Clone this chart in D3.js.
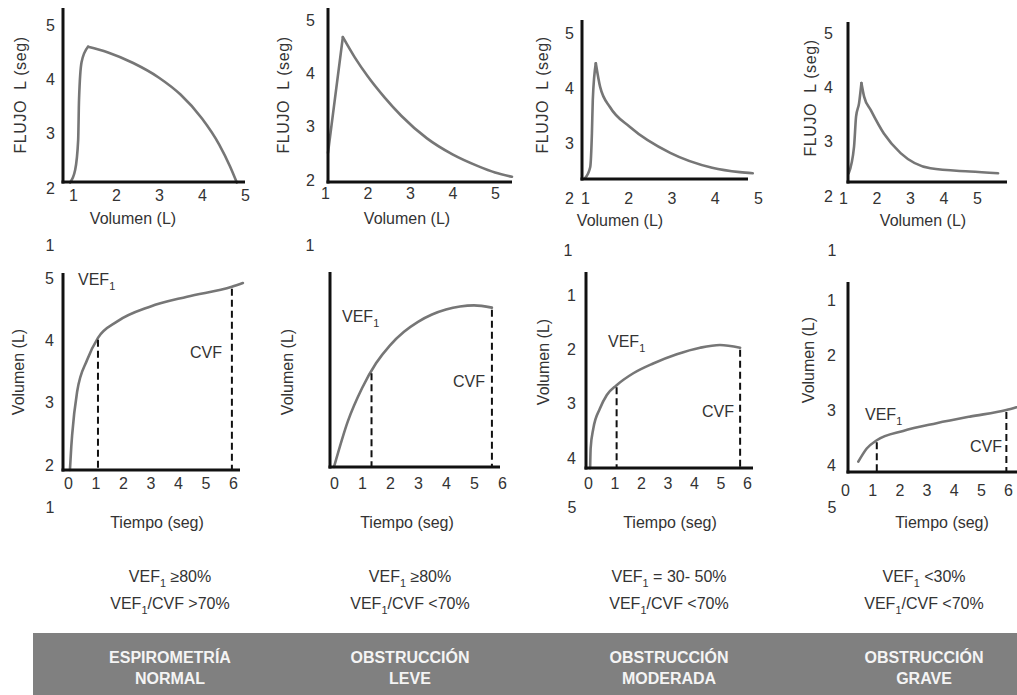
<!DOCTYPE html>
<html>
<head>
<meta charset="utf-8">
<script src="https://cdn.jsdelivr.net/npm/d3@7"></script>
<style>
body { margin: 0; background: #fff; }
svg { display: block; font-family: Arial, "Liberation Sans", sans-serif; }
.tick text { fill: #333; font-size: 16px; }
</style>
</head>
<body>
<svg id="chart" width="1017" height="695"></svg>
<script>
// curvas flujo-volumen (arriba): [volumen, flujo]
const flujoNormal = [[0.93,2.1],[1.05,2.33],[1.12,2.88],[1.14,3.62],[1.2,4.32],[1.35,4.6],[1.8,4.5],[2.4,4.3],[3.0,4.03],[3.5,3.72],[4.0,3.28],[4.4,2.8],[4.65,2.4],[4.81,2.1]];
const flujoLeve = [[1.07,2.51],[1.42,4.68],[1.7,4.3],[2.0,3.95],[2.4,3.55],[2.8,3.2],[3.4,2.78],[4.0,2.48],[4.6,2.26],[5.0,2.14],[5.4,2.06]];
const flujoModerada = [[1.0,2.36],[1.12,2.56],[1.16,3.18],[1.18,3.78],[1.25,4.45],[1.35,4.02],[1.58,3.65],[2.04,3.29],[2.97,2.82],[3.94,2.55],[4.58,2.47],[4.88,2.45]];
const flujoGrave = [[1.17,2.42],[1.33,2.91],[1.39,3.46],[1.48,3.71],[1.55,4.08],[1.63,3.83],[1.83,3.58],[2.22,3.15],[2.72,2.79],[3.61,2.51],[4.79,2.45],[5.63,2.42]];

// curvas volumen-tiempo (abajo): [tiempo, volumen]
const volNormal = [[0.07,1.92],[0.12,2.3],[0.15,2.48],[0.33,3.17],[0.69,3.68],[1.09,4.04],[1.78,4.3],[2.98,4.54],[4.33,4.7],[5.96,4.86],[6.36,4.92]];
const volLeve = [[0,0],[0.5,1.2],[1.0,2.05],[1.5,2.7],[2.0,3.17],[2.5,3.52],[3.0,3.78],[3.5,3.97],[4.0,4.1],[4.5,4.18],[5.0,4.21],[5.64,4.15]];
const volModerada = [[0.08,4.19],[0.1,3.82],[0.2,3.46],[0.45,3.09],[0.71,2.84],[1.08,2.66],[1.71,2.44],[2.46,2.26],[3.35,2.09],[4.23,1.97],[4.98,1.92],[5.74,1.97]];
const volGrave = [[0.49,3.94],[0.8,3.7],[1.17,3.55],[2.14,3.38],[3.37,3.24],[4.6,3.12],[5.94,3.0],[6.31,2.95]];

const vef1Tiempo = [1.09, 1.34, 1.08, 1.17];
const cvfTiempo = [5.96, 5.64, 5.74, 5.94];

const volTicks = [1, 2, 3, 4, 5];
const flujoTicks = [2, 3, 4, 5];
const tiempoTicks = [0, 1, 2, 3, 4, 5, 6];
const volBajoTicks = [[2, 3, 4, 5], [], [1, 2, 3, 4], [1, 2, 3, 4]];
const sueltosArriba = ["1", "1", "1", "1"];
const sueltosAbajo = ["1", "", "5", "5"];

const vef1Criterio = ["≥80%", "≥80%", "= 30- 50%", "<30%"];
const ratioCriterio = [">70%", "<70%", "<70%", "<70%"];
const diagnostico = [["ESPIROMETRÍA", "NORMAL"], ["OBSTRUCCIÓN", "LEVE"], ["OBSTRUCCIÓN", "MODERADA"], ["OBSTRUCCIÓN", "GRAVE"]];

const flujoCurvas = [flujoNormal, flujoLeve, flujoModerada, flujoGrave];
const volCurvas = [volNormal, volLeve, volModerada, volGrave];

// posiciones de cada panel
const arriba = [
  {ax: 63, top: 8, ay: 182, right: 245, xr: [73, 245], yr: [188, 25], ylx: 51, xly: 195, fx: 20, fy: 95, vx: 133, vy: 218},
  {ax: 328, top: 8, ay: 182, right: 512, xr: [325, 495], yr: [180, 20], ylx: 311, xly: 193, fx: 283, fy: 95, vx: 407, vy: 218},
  {ax: 582, top: 20, ay: 179, right: 748, xr: [585, 758], yr: [198, 33], ylx: 570, xly: 198, fx: 542, fy: 95, vx: 620, vy: 220},
  {ax: 848, top: 22, ay: 182, right: 1007, xr: [843, 977], yr: [196, 33], ylx: 829, xly: 198, fx: 810, fy: 98, vx: 923, vy: 220}
];
const abajo = [
  {ax: 63, top: 273, ay: 470, right: 240, xr: [68, 233], yd: [2, 5], yr: [465, 278], ylx: 50, xly: 483, vx: 18, vy: 372, tx: 157, ty: 522, vef: [78, 285], cvf: [190, 358], s1: [50, 245], s2: [50, 507]},
  {ax: 330, top: 272, ay: 467, right: 500, xr: [334, 502], yd: [0, 5], yr: [467, 275], ylx: 310, xly: 483, vx: 287, vy: 372, tx: 407, ty: 522, vef: [342, 322], cvf: [453, 387], s1: [310, 245], s2: [310, 507]},
  {ax: 586, top: 272, ay: 468, right: 753, xr: [588, 747], yd: [1, 4], yr: [295, 458], ylx: 572, xly: 483, vx: 543, vy: 362, tx: 670, ty: 522, vef: [608, 347], cvf: [702, 417], s1: [568, 250], s2: [572, 507]},
  {ax: 848, top: 282, ay: 472, right: 1017, xr: [845, 1008], yd: [1, 4], yr: [300, 465], ylx: 832, xly: 490, vx: 808, vy: 360, tx: 942, ty: 522, vef: [865, 420], cvf: [970, 452], s1: [832, 250], s2: [832, 507]}
];
const columnas = [170, 410, 669, 924];

const svg = d3.select("#chart");
const gris = "#767676", texto = "#333";

function ejes(g, c) {
  g.append("line").attr("x1", c.ax).attr("x2", c.ax).attr("y1", c.top).attr("y2", c.ay + 1.5)
    .attr("stroke", "#111").attr("stroke-width", 3);
  g.append("line").attr("x1", c.ax - 1.5).attr("x2", c.right).attr("y1", c.ay).attr("y2", c.ay)
    .attr("stroke", "#111").attr("stroke-width", 3);
}

function etiquetas(g, axis, tx, ty) {
  const a = g.append("g").attr("transform", "translate(" + tx + "," + ty + ")").call(axis);
  a.select(".domain").remove();
  a.selectAll(".tick line").remove();
  a.attr("font-family", null).attr("font-size", null);
}

function vefTexto(sel, resto) {
  sel.append("tspan").text("VEF");
  sel.append("tspan").attr("dy", 5).attr("font-size", "0.68em").text("1");
  sel.append("tspan").attr("dy", -5).text(resto);
}

function curva(g, datos, x, y) {
  g.append("path").datum(datos)
    .attr("d", d3.line().x(d => x(d[0])).y(d => y(d[1])).curve(d3.curveMonotoneX))
    .attr("fill", "none").attr("stroke", gris).attr("stroke-width", 2.6)
    .attr("stroke-linejoin", "round").attr("stroke-linecap", "round");
}

// curvas flujo-volumen
arriba.forEach((c, i) => {
  const g = svg.append("g");
  const x = d3.scaleLinear().domain([1, 5]).range(c.xr);
  const y = d3.scaleLinear().domain([2, 5]).range(c.yr);

  // subida y bajada por separado para dejar el pico agudo
  const datos = flujoCurvas[i];
  const pico = d3.maxIndex(datos, d => d[1]);
  curva(g, datos.slice(0, pico + 1), x, y);
  curva(g, datos.slice(pico), x, y);
  ejes(g, c);

  etiquetas(g, d3.axisBottom(x).tickValues(volTicks).tickSize(0).tickPadding(0).tickFormat(d3.format("d")), 0, c.xly - 5);
  etiquetas(g, d3.axisLeft(y).tickValues(flujoTicks).tickSize(0).tickPadding(0).tickFormat(d3.format("d")), c.ylx + 4, 0);

  g.append("text").attr("transform", "translate(" + c.fx + "," + c.fy + ") rotate(-90)")
    .attr("text-anchor", "middle").attr("dy", "0.35em").attr("fill", texto)
    .attr("font-size", 16).attr("letter-spacing", 0.6).attr("xml:space", "preserve")
    .text("FLUJO  L (seg)");
  g.append("text").attr("x", c.vx).attr("y", c.vy).attr("dy", "0.35em").attr("text-anchor", "middle")
    .attr("fill", texto).attr("font-size", 16).text("Volumen (L)");
});

// curvas volumen-tiempo
abajo.forEach((c, i) => {
  const g = svg.append("g");
  const x = d3.scaleLinear().domain([0, 6]).range(c.xr);
  const y = d3.scaleLinear().domain(c.yd).range(c.yr);
  const datos = volCurvas[i];

  curva(g, datos, x, y);

  // linea discontinua desde la curva hasta el eje
  const vEn = t => {
    const k = d3.bisector(d => d[0]).left(datos, t);
    const a = datos[Math.max(0, k - 1)], b = datos[Math.min(datos.length - 1, k)];
    return a[0] === b[0] ? a[1] : a[1] + (b[1] - a[1]) * (t - a[0]) / (b[0] - a[0]);
  };
  [vef1Tiempo[i], cvfTiempo[i]].forEach(t => {
    g.append("line").attr("x1", x(t)).attr("x2", x(t)).attr("y1", y(vEn(t)) + 2).attr("y2", c.ay)
      .attr("stroke", "#111").attr("stroke-width", 2).attr("stroke-dasharray", "7,4");
  });
  ejes(g, c);

  etiquetas(g, d3.axisBottom(x).tickValues(tiempoTicks).tickSize(0).tickPadding(0).tickFormat(d3.format("d")), 0, c.xly - 5);
  etiquetas(g, d3.axisLeft(y).tickValues(volBajoTicks[i]).tickSize(0).tickPadding(0).tickFormat(d3.format("d")), c.ylx + 4, 0);

  g.append("text").attr("x", c.s1[0]).attr("y", c.s1[1]).attr("dy", "0.35em").attr("text-anchor", "middle")
    .attr("fill", texto).attr("font-size", 16).text(sueltosArriba[i]);
  g.append("text").attr("x", c.s2[0]).attr("y", c.s2[1]).attr("dy", "0.35em").attr("text-anchor", "middle")
    .attr("fill", texto).attr("font-size", 16).text(sueltosAbajo[i]);

  g.append("text").attr("transform", "translate(" + c.vx + "," + c.vy + ") rotate(-90)")
    .attr("text-anchor", "middle").attr("dy", "0.35em").attr("fill", texto).attr("font-size", 16)
    .text("Volumen (L)");
  g.append("text").attr("x", c.tx).attr("y", c.ty).attr("dy", "0.35em").attr("text-anchor", "middle")
    .attr("fill", texto).attr("font-size", 16).text("Tiempo (seg)");

  vefTexto(g.append("text").attr("x", c.vef[0]).attr("y", c.vef[1]).attr("fill", texto).attr("font-size", 16), "");
  g.append("text").attr("x", c.cvf[0]).attr("y", c.cvf[1]).attr("fill", texto).attr("font-size", 16).text("CVF");
});

// criterios
columnas.forEach((cx, i) => {
  vefTexto(svg.append("text").attr("x", cx).attr("y", 582).attr("text-anchor", "middle")
    .attr("fill", texto).attr("font-size", 16).attr("xml:space", "preserve"), " " + vef1Criterio[i]);
  vefTexto(svg.append("text").attr("x", cx).attr("y", 609).attr("text-anchor", "middle")
    .attr("fill", texto).attr("font-size", 16), "/CVF " + ratioCriterio[i]);
});

// banda inferior
svg.append("rect").attr("x", 33).attr("y", 633).attr("width", 1017 - 33).attr("height", 62).attr("fill", "#808080");
columnas.forEach((cx, i) => {
  diagnostico[i].forEach((t, j) => {
    svg.append("text").attr("x", cx).attr("y", 657 + j * 21).attr("dy", "0.35em").attr("text-anchor", "middle")
      .attr("fill", "#f4f4f4").attr("font-size", 16).attr("font-weight", "bold").text(t);
  });
});
</script>
</body>
</html>
